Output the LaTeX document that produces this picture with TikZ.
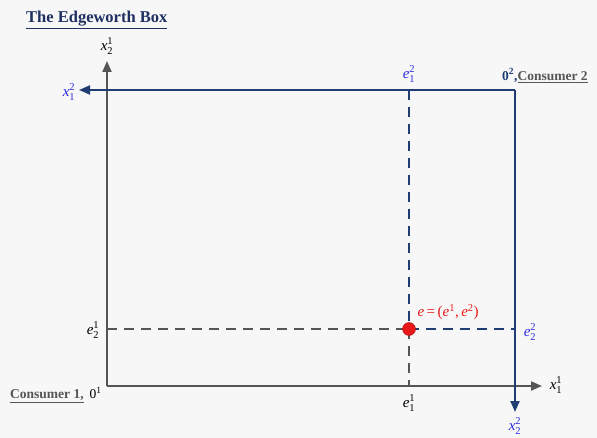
\documentclass[tikz,border=0pt]{standalone}
\usepackage{amsmath}
\usepackage{fontspec}
\setmainfont{Liberation Serif}
\usetikzlibrary{arrows.meta}
\definecolor{bgc}{HTML}{F7F7F7}
\definecolor{axgray}{HTML}{555555}
\definecolor{boxblue}{HTML}{1F3D73}
\definecolor{lblblue}{HTML}{2A2AE0}
\definecolor{titleblue}{HTML}{1E2F60}
\definecolor{ered}{HTML}{E81818}
\newcommand\lbl[3]{$\textit{#1}^{\text{#3}}_{\text{#2}}$}
\newcommand\sups[2]{\textit{#1}$^{\text{#2}}$}
\begin{document}
\begin{tikzpicture}[x=1pt,y=-1pt,
  axis/.style={draw=axgray,line width=2pt,-{Triangle[length=11pt,width=9pt]}},
  bluebox/.style={draw=boxblue,line width=2pt},
  bluearrow/.style={bluebox,-{Triangle[length=11pt,width=9pt]}},
  graydash/.style={draw=axgray,line width=2pt,dash pattern=on 10pt off 7pt},
  bluedash/.style={draw=boxblue,line width=2pt,dash pattern=on 10pt off 7pt},
  blk/.style={text=black,font=\fontsize{15}{15}\selectfont,inner sep=1pt},
  blu/.style={text=lblblue,font=\fontsize{15}{15}\selectfont,inner sep=1pt},
  dot/.style={circle,fill=ered,draw=ered!70!black,minimum size=13pt,inner sep=0pt}]
\fill[bgc] (0,0) rectangle (597,438);
\useasboundingbox (0,0) rectangle (597,438);
% title
\node[anchor=west,text=titleblue,font=\fontsize{16.5}{16.5}\selectfont\bfseries,inner sep=0pt] (title) at (26,20) {\underline{The Edgeworth Box}};
% coordinates
\coordinate (O1) at (107,386);
\coordinate (Ytip) at (107,61);
\coordinate (Xtip) at (542,386);
\coordinate (O2) at (515,90);
\coordinate (X12tip) at (79,90);
\coordinate (X22tip) at (515,412);
\coordinate (eTop) at (409,90);
\coordinate (eBot) at (409,386);
\coordinate (eLeft) at (107,329);
\coordinate (eRight) at (515,329);
% dashed lines
\draw[graydash] (eLeft) -- (409,329);
\draw[bluedash] (409,329) -- (eRight);
\draw[bluedash] (eTop) -- (409,329);
\draw[graydash] (409,329) -- (eBot);
% axes consumer 1
\draw[axis] (O1) -- (Ytip);
\draw[axis] (O1) -- (Xtip);
% box consumer 2
\draw[bluearrow] (O2) -- (X12tip);
\draw[bluearrow] (O2) -- (X22tip);
% endowment
\node[dot] (e) at (409,329) {};
\node[text=ered,font=\fontsize{15}{15}\selectfont,anchor=west] (elbl) at (414,312) {\textit{e}\,=\,(\sups{e}{1},\,\sups{e}{2})};
% labels
\node[blk] (lx21) at (107,46) {\lbl{x}{2}{1}};
\node[blk] (lx11) at (556,385) {\lbl{x}{1}{1}};
\node[blu] (lx12) at (69,92) {\lbl{x}{1}{2}};
\node[blu] (lx22) at (515,426) {\lbl{x}{2}{2}};
\node[blu] (le12) at (409,74) {\lbl{e}{1}{2}};
\node[blu] (le22) at (530,332) {\lbl{e}{2}{2}};
\node[blk] (le21) at (93,330) {\lbl{e}{2}{1}};
\node[blk] (le11) at (409,403) {\lbl{e}{1}{1}};
\node[anchor=west,inner sep=0pt,font=\fontsize{13.5}{13.5}\selectfont\bfseries] (c2) at (502,76) {\textcolor{boxblue}{0$^{\text{2}}$,}\textcolor{axgray}{\underline{Consumer 2}}};
\node[anchor=west,inner sep=0pt,font=\fontsize{13.5}{13.5}\selectfont\bfseries,text=axgray] (c1) at (10,395) {\underline{Consumer 1,}\hspace{6pt}\textcolor{black}{\mdseries 0$^{\text{1}}$}};
\end{tikzpicture}
\end{document}
